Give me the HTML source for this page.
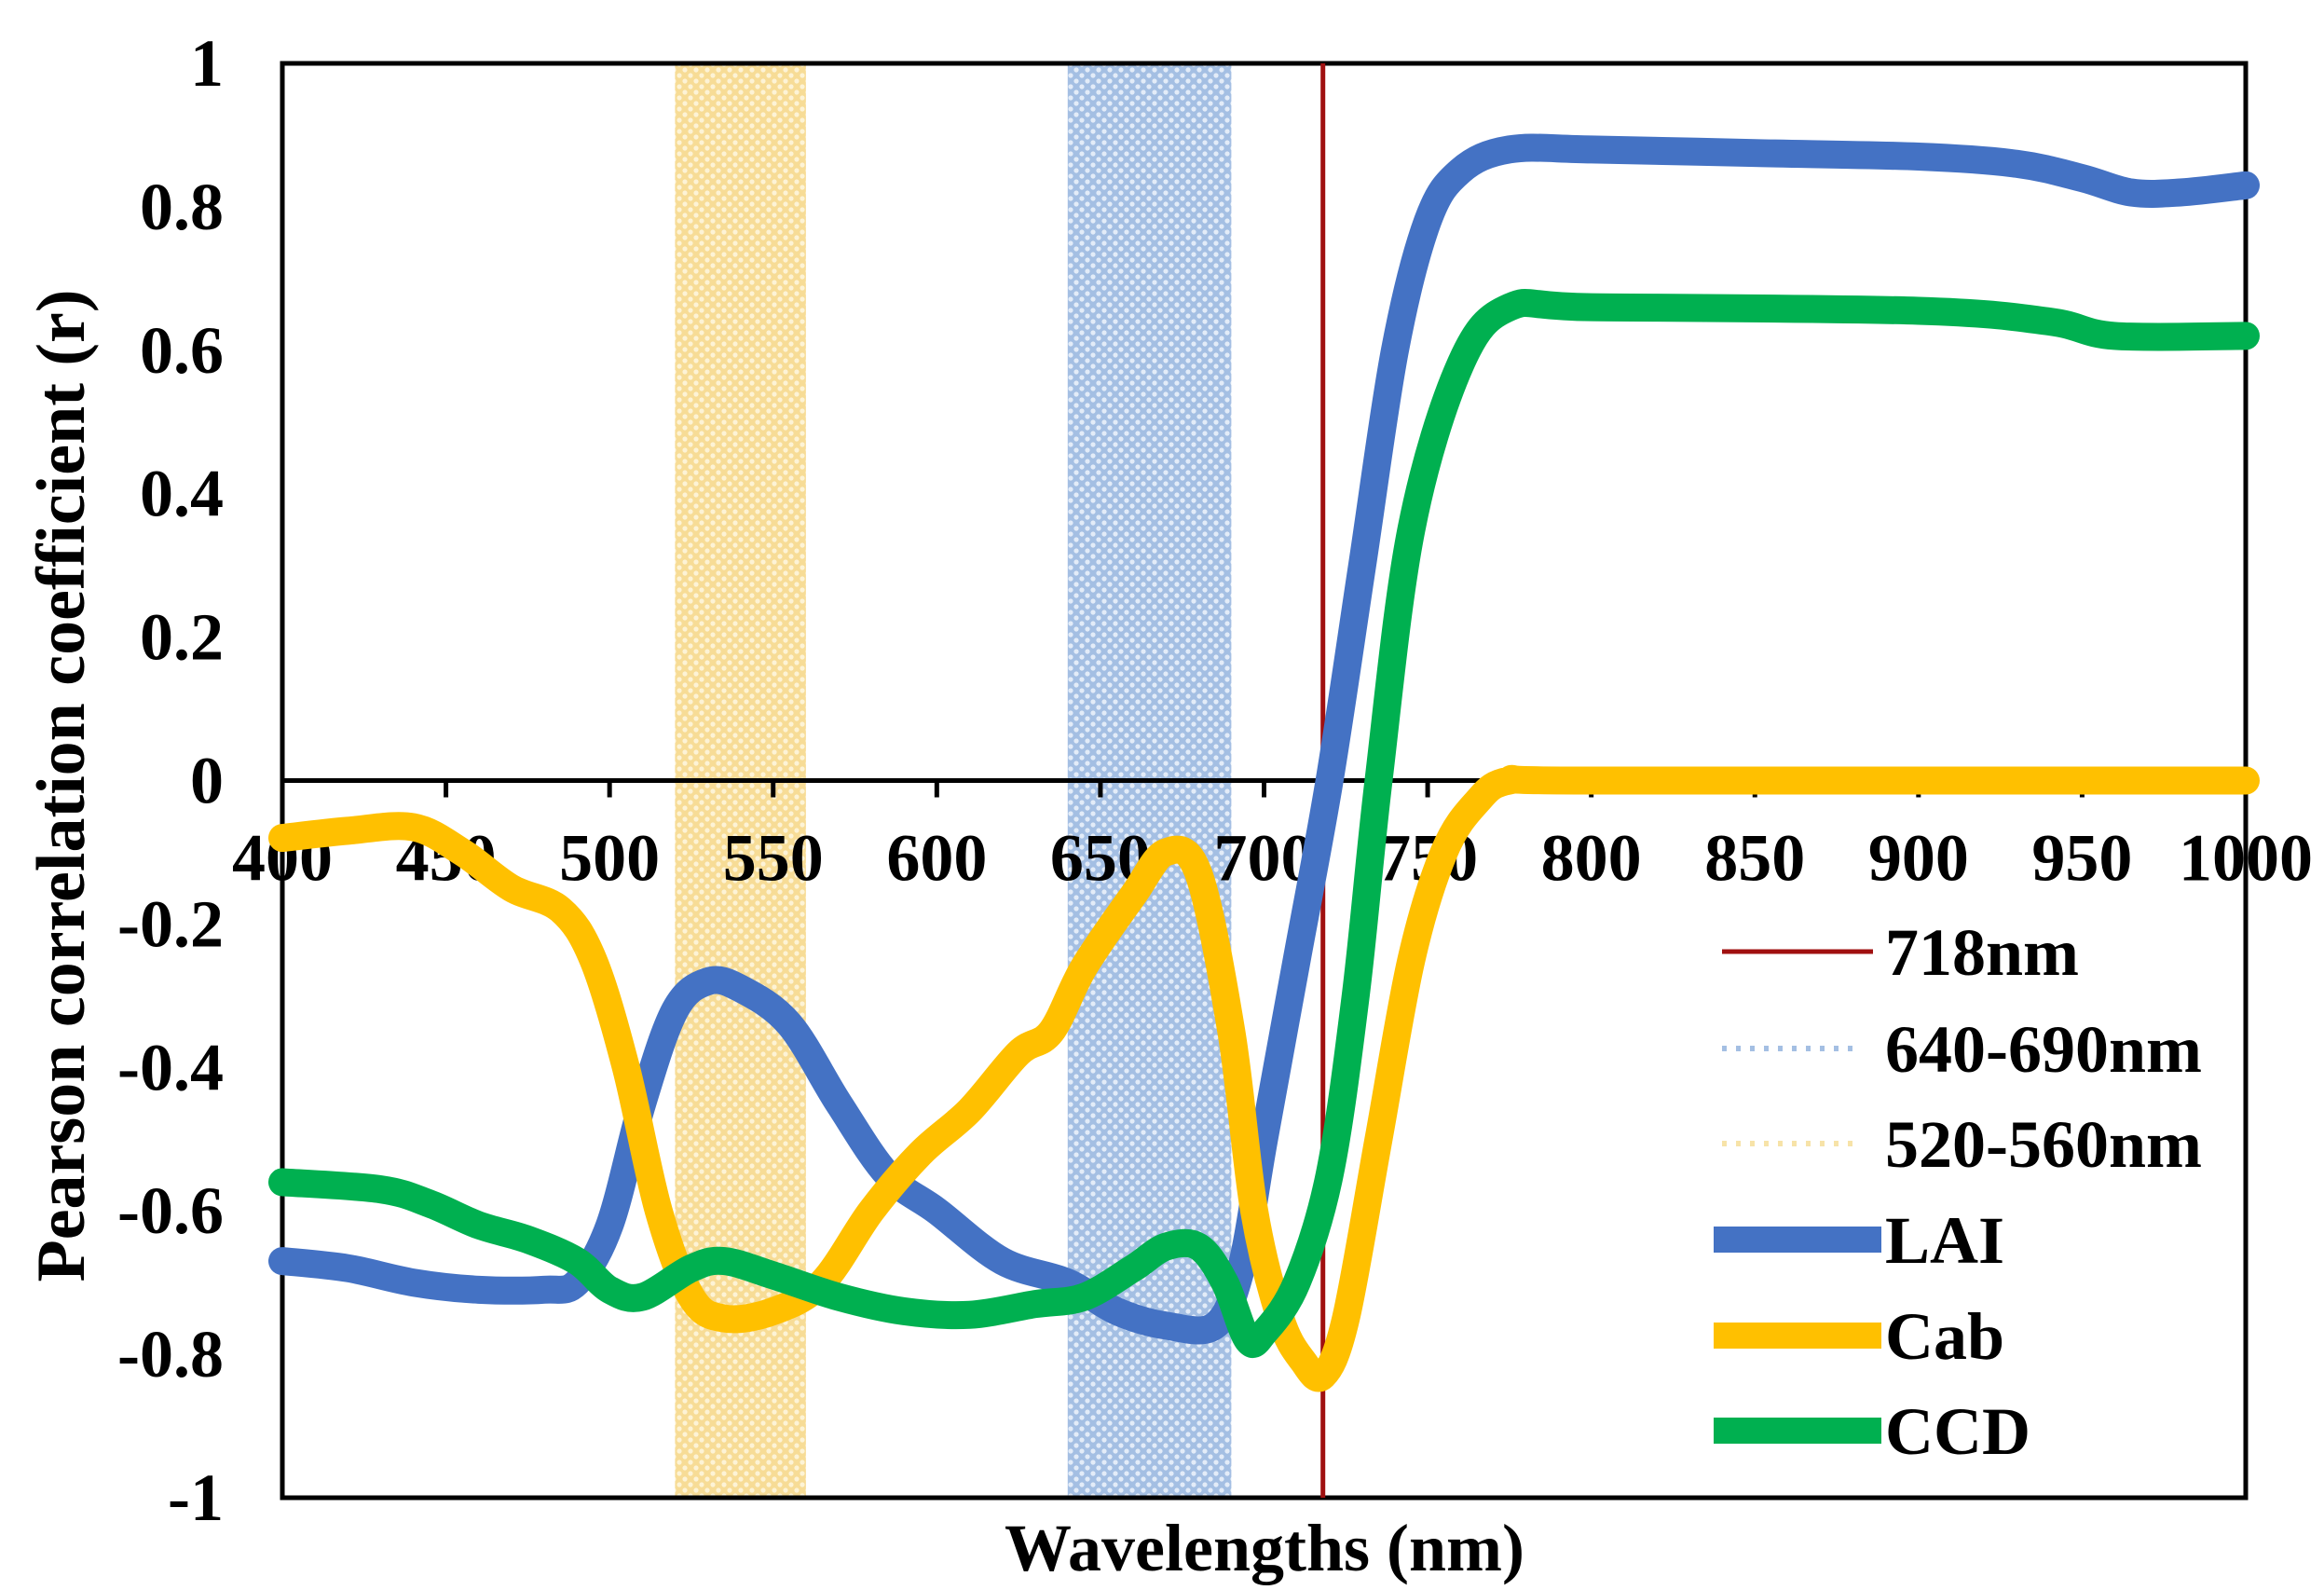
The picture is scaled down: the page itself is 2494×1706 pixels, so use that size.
<!DOCTYPE html>
<html><head><meta charset="utf-8"><style>
html,body{margin:0;padding:0;background:#fff;}
svg{display:block;}
text{font-family:"Liberation Serif",serif;font-weight:bold;fill:#000;}
</style></head><body>
<svg id="s" width="2494" height="1706" viewBox="0 0 2494 1706" xmlns="http://www.w3.org/2000/svg">
<defs>
<pattern id="py" width="12" height="12" patternUnits="userSpaceOnUse"><rect width="12" height="12" fill="#f7dc96"/><circle cx="3" cy="3" r="2.6" fill="#fdf3d6"/><circle cx="9" cy="9" r="2.6" fill="#fdf3d6"/></pattern>
<pattern id="pb" width="12" height="12" patternUnits="userSpaceOnUse"><rect width="12" height="12" fill="#a4bfe3"/><circle cx="3" cy="3" r="2.6" fill="#e3ecf8"/><circle cx="9" cy="9" r="2.6" fill="#e3ecf8"/></pattern>
</defs>
<g id="g"></g>
</svg>
<script>
var L=303,R=2410,T=68,B=1607;
function X(w){return L+(w-400)*(R-L)/600;}
function Y(v){return T+(1-v)*(B-T)/2;}
var g=document.getElementById('g'),h='';
h+='<rect x="'+X(520)+'" y="'+T+'" width="'+(X(560)-X(520))+'" height="'+(B-T)+'" fill="url(#py)"/>';
h+='<rect x="'+X(640)+'" y="'+T+'" width="'+(X(690)-X(640))+'" height="'+(B-T)+'" fill="url(#pb)"/>';
h+='<rect x="'+L+'" y="'+T+'" width="'+(R-L)+'" height="'+(B-T)+'" fill="none" stroke="#000" stroke-width="5"/>';
var z=Y(0);
h+='<line x1="'+L+'" y1="'+z+'" x2="'+R+'" y2="'+z+'" stroke="#000" stroke-width="5"/>';
for(var w=400;w<=1000;w+=50){var x=X(w);h+='<line x1="'+x+'" y1="'+z+'" x2="'+x+'" y2="'+(z+18)+'" stroke="#000" stroke-width="5"/>';
h+='<text x="'+x+'" y="'+(z+107)+'" font-size="72" text-anchor="middle">'+w+'</text>';}
var yl=['1','0.8','0.6','0.4','0.2','0','-0.2','-0.4','-0.6','-0.8','-1'];
for(var i=0;i<11;i++){var v=1-i*0.2;h+='<text x="240" y="'+(Y(v)+24)+'" font-size="72" text-anchor="end">'+yl[i]+'</text>';}
h+='<text transform="translate(90,843) rotate(-90)" font-size="74" text-anchor="middle">Pearson correlation coefficient (r)</text>';
h+='<text x="1357" y="1685" font-size="72" text-anchor="middle">Wavelengths (nm)</text>';
function path(d){var p=d.map(function(a){return [X(a[0]),Y(a[1])];});var s='M'+p[0][0]+','+p[0][1];
for(var i=0;i<p.length-1;i++){var p0=p[Math.max(i-1,0)],p1=p[i],p2=p[i+1],p3=p[Math.min(i+2,p.length-1)];
s+=' C'+(p1[0]+(p2[0]-p0[0])/6)+','+(p1[1]+(p2[1]-p0[1])/6)+' '+(p2[0]-(p3[0]-p1[0])/6)+','+(p2[1]-(p3[1]-p1[1])/6)+' '+p2[0]+','+p2[1];}return s;}
var lai=[[400,-0.67],[420,-0.68],[440,-0.70],[460,-0.71],[480,-0.71],[490,-0.70],[500,-0.62],[510,-0.45],[520,-0.32],[530,-0.28],[540,-0.29],[555,-0.34],[570,-0.45],[585,-0.55],[600,-0.60],[620,-0.67],[640,-0.70],[655,-0.74],[670,-0.76],[685,-0.76],[693,-0.68],[700,-0.50],[710,-0.25],[720,0.0],[730,0.3],[740,0.6],[750,0.78],[760,0.85],[775,0.88],[800,0.88],[850,0.875],[900,0.87],[930,0.86],[950,0.84],[965,0.82],[980,0.82],[1000,0.83]];
var cab=[[400,-0.08],[420,-0.07],[440,-0.065],[455,-0.10],[470,-0.15],[485,-0.18],[495,-0.25],[505,-0.40],[515,-0.60],[525,-0.72],[535,-0.75],[550,-0.74],[565,-0.70],[580,-0.60],[595,-0.52],[610,-0.46],[625,-0.38],[635,-0.35],[645,-0.26],[660,-0.16],[670,-0.10],[680,-0.13],[690,-0.35],[697,-0.60],[705,-0.75],[712,-0.81],[718,-0.83],[725,-0.75],[735,-0.50],[745,-0.25],[755,-0.10],[765,-0.03],[775,0.0],[800,0.0],[1000,0.0]];
var ccd=[[400,-0.56],[430,-0.57],[445,-0.59],[460,-0.62],[475,-0.64],[490,-0.67],[500,-0.71],[510,-0.72],[525,-0.68],[535,-0.67],[550,-0.69],[570,-0.72],[590,-0.74],[610,-0.745],[630,-0.73],[645,-0.72],[660,-0.68],[670,-0.65],[680,-0.65],[688,-0.70],[695,-0.78],[700,-0.77],[710,-0.70],[720,-0.55],[728,-0.30],[735,0.0],[745,0.35],[760,0.58],[775,0.66],[800,0.66],[900,0.655],[940,0.64],[960,0.62],[1000,0.62]];
h+='<line x1="'+X(718)+'" y1="'+T+'" x2="'+X(718)+'" y2="'+B+'" stroke="#a01010" stroke-width="5"/>';
[[lai,'#4472C4'],[cab,'#FFC000'],[ccd,'#00B050']].forEach(function(a){h+='<path d="'+path(a[0])+'" fill="none" stroke="'+a[1]+'" stroke-width="30" stroke-linejoin="round" stroke-linecap="round"/>';});
var ly=[1021,1125,1227,1330,1433,1535],lt=['718nm','640-690nm','520-560nm','LAI','Cab','CCD'];
h+='<rect x="1830" y="990" width="570" height="590" fill="#fff"/>';
h+='<line x1="1848" y1="1021" x2="2010" y2="1021" stroke="#a01010" stroke-width="5"/>';
h+='<line x1="1848" y1="1125" x2="1998" y2="1125" stroke="#a4bfe3" stroke-width="6" stroke-dasharray="5,10"/>';
h+='<line x1="1848" y1="1227" x2="1998" y2="1227" stroke="#f7e3a8" stroke-width="6" stroke-dasharray="5,10"/>';
h+='<line x1="1839" y1="1330" x2="2019" y2="1330" stroke="#4472C4" stroke-width="28"/>';
h+='<line x1="1839" y1="1433" x2="2019" y2="1433" stroke="#FFC000" stroke-width="28"/>';
h+='<line x1="1839" y1="1535" x2="2019" y2="1535" stroke="#00B050" stroke-width="28"/>';
for(var i=0;i<6;i++)h+='<text x="2023" y="'+(ly[i]+25)+'" font-size="72">'+lt[i]+'</text>';
g.innerHTML=h;
</script>
</body></html>
